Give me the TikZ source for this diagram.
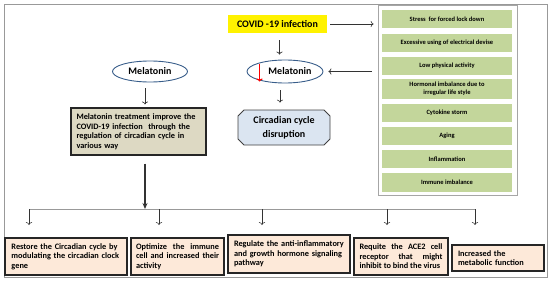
\documentclass[tikz,border=0pt]{standalone}
\usepackage{fontspec}
\setmainfont{Carlito}
\usetikzlibrary{shapes.geometric,shapes.misc,arrows.meta}
\definecolor{sagegreen}{HTML}{C3D69B}
\definecolor{tanfill}{HTML}{DDD9C3}
\definecolor{peachfill}{HTML}{FDE9D9}
\definecolor{paleblue}{HTML}{DBE5F1}
\definecolor{ovalblue}{HTML}{385D8A}
\hyphenpenalty=10000
\exhyphenpenalty=10000
\tikzset{
  causebox/.style={fill=sagegreen, minimum width=130pt, minimum height=18pt, inner sep=1pt, align=center, font=\bfseries\fontsize{6.5}{8}\selectfont},
  oval/.style={draw=ovalblue, line width=0.9pt, ellipse, inner sep=0pt, font=\bfseries\fontsize{10}{11}\selectfont},
  effectbox/.style={draw=black!85, line width=1.2pt, fill=peachfill, minimum height=37pt, inner sep=0pt, font=\bfseries\fontsize{8.3}{9.5}\selectfont},
  thinarrow/.style={->, black!80, line width=0.6pt}
}
\begin{document}
\begin{tikzpicture}[x=1pt, y=-1pt]
\useasboundingbox (0,0) rectangle (550,281);
\draw[gray!80, line width=0.8pt] (4,4) rectangle (547,277);

% infection and its causes
\node[fill=yellow, minimum width=99pt, minimum height=18pt, inner sep=0pt, font=\bfseries\fontsize{10}{11}\selectfont] at (277.5,24) (covid) {COVID -19 infection};
\node[draw=gray!70, line width=0.8pt, fill=white, minimum width=139pt, minimum height=190pt] at (447.5,100) (panel) {};
\node[causebox] at (447,19) (stress) {Stress\ \ for forced lock down};
\node[causebox] at (447,42.5) (device) {Excessive using of electrical devise};
\node[causebox] at (447,66) (activity) {Low physical activity};
\node[causebox, minimum height=20pt] at (447,89) (hormone) {Hormonal imbalance due to\\irregular life style};
\node[causebox] at (447,112.5) (cytokine) {Cytokine storm};
\node[causebox] at (447,136) (aging) {Aging};
\node[causebox] at (447,159) (inflam) {Inflammation};
\node[causebox, minimum height=19pt] at (447,182) (immune) {Immune imbalance};

% melatonin
\node[oval, minimum width=75pt, minimum height=21pt] at (150,71.5) (melTreat) {Melatonin};
\node[oval, minimum width=76pt, minimum height=23pt] at (285,71.5) (melLow) {\hspace{10pt}Melatonin};
\draw[red, -{To[length=3pt]}, line width=1.1pt] ([xshift=13pt, yshift=8pt]melLow.west) -- ([xshift=13pt, yshift=-10pt]melLow.west);
\node[chamfered rectangle, chamfered rectangle xsep=3pt, chamfered rectangle ysep=3pt, draw=black!75, line width=0.8pt, fill=paleblue, minimum width=92pt, minimum height=35pt, inner sep=2pt, align=center, font=\bfseries\fontsize{10}{14}\selectfont] at (284,127.5) (circ) {Circadian cycle\\disruption};
\node[draw=black!85, line width=1.2pt, fill=tanfill, minimum width=135pt, minimum height=47pt, text width=124pt, align=left, inner sep=5pt, font=\bfseries\fontsize{8.3}{9.5}\selectfont] at (138.5,131.5) (treat) {Melatonin treatment improve the COVID-19 infection\ \ through the regulation of circadian cycle in various way};

\draw[thinarrow, shorten <=3pt, shorten >=4pt] (covid.east) -- (covid.east -| panel.west);
\draw[thinarrow, shorten <=7pt, shorten >=5pt] ([xshift=2pt]covid.south) -- ([xshift=2pt]covid.south |- melLow.north);
\draw[thinarrow, shorten <=6pt, shorten >=5pt] (panel.west |- melLow.east) -- (melLow.east);
\draw[thinarrow, shorten <=7pt, shorten >=7pt] ([xshift=-5pt]melLow.south) -- ([xshift=-5pt]melLow.south |- circ.north);
\draw[thinarrow, shorten <=6pt, shorten >=3pt] ([xshift=-5pt]melTreat.south) -- ([xshift=-5pt]melTreat.south |- treat.north);

% effects
\coordinate (hub) at (145,209);
\draw[-{Stealth[length=6pt, width=5pt]}, black!80, line width=1.3pt, shorten <=8pt] (treat.south -| hub) -- (hub);
\coordinate (t1) at (29,209);
\coordinate (t2) at (159,209);
\coordinate (t3) at (262,209);
\coordinate (t4) at (387,209);
\coordinate (t5) at (475,209);
\coordinate (d1) at (29,225);
\coordinate (d2) at (159,225);
\coordinate (d3) at (262,225);
\coordinate (d4) at (387,225);
\coordinate (d5) at (475,225);
\draw[gray!80, line width=0.8pt] (t1) -- (t5);
\draw[thinarrow] (t1) -- (d1);
\draw[thinarrow] (t2) -- (d2);
\draw[thinarrow] (t3) -- (d3);
\draw[thinarrow] (t4) -- (d4);
\draw[thinarrow] (t5) -- (d5);

\node[effectbox, minimum width=122pt, text width=109pt, align=left] at (66,256.5) (restore) {Restore the Circadian cycle by modulating the circadian clock gene};
\node[effectbox, minimum width=93pt, text width=83pt, align=justify] at (177.5,256.5) (optimize) {Optimize the immune cell and increased their activity};
\node[effectbox, minimum width=122pt, minimum height=38pt, text width=110pt, align=left] at (289,254) (regulate) {Regulate the anti-inflammatory and growth hormone signaling pathway};
\node[effectbox, minimum width=94pt, text width=83pt, align=justify] at (401,256.5) (ace) {Requite the ACE2 cell receptor that might inhibit to bind the virus};
\node[effectbox, minimum width=92pt, minimum height=26pt, text width=80pt, align=left] at (498,258) (metab) {Increased the\\metabolic function};
\end{tikzpicture}
\end{document}
